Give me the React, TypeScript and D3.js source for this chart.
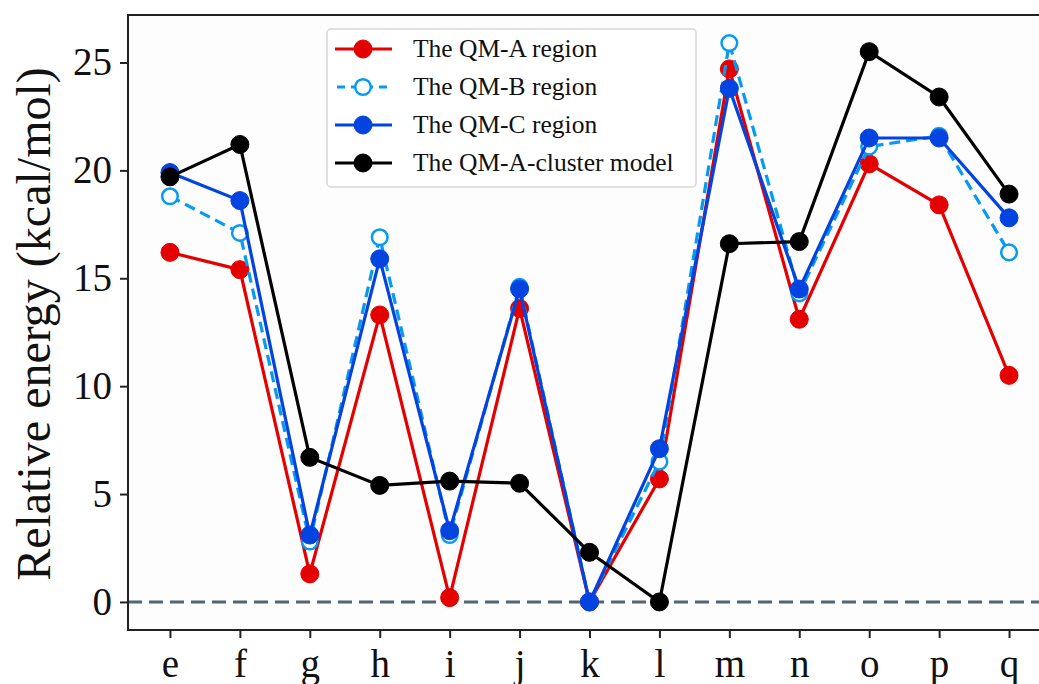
import React, { useEffect, useRef } from 'react';
import * as d3 from 'd3';

// categories along the x axis
const categories = ['e', 'f', 'g', 'h', 'i', 'j', 'k', 'l', 'm', 'n', 'o', 'p', 'q'];

// relative energies (kcal/mol)
const qmA = [16.2, 15.4, 1.3, 13.3, 0.2, 13.6, 0, 5.7, 24.7, 13.1, 20.3, 18.4, 10.5];
const qmB = [18.8, 17.1, 2.8, 16.9, 3.1, 14.6, 0, 6.5, 25.9, 14.3, 21.1, 21.6, 16.2];
const qmC = [19.9, 18.6, 3.1, 15.9, 3.3, 14.5, 0, 7.1, 23.8, 14.5, 21.5, 21.5, 17.8];
const cluster = [19.7, 21.2, 6.7, 5.4, 5.6, 5.5, 2.3, 0, 16.6, 16.7, 25.5, 23.4, 18.9];

const yTicks = [0, 5, 10, 15, 20, 25];

const seriesNames = ['The QM-A region', 'The QM-B region', 'The QM-C region', 'The QM-A-cluster model'];

export default function App() {
  const ref = useRef<SVGSVGElement>(null);

  useEffect(() => {
    const svg = d3.select(ref.current);
    svg.selectAll('*').remove();

    const left = 128, top = 15, right = 1051, bottom = 630;
    const font = '"Liberation Serif", "DejaVu Serif", serif';

    const x = d3.scaleLinear().domain([-0.6, categories.length - 1 + 0.6]).range([left, right]);
    const y = d3.scaleLinear().domain([-1.3, 27.2]).range([bottom, top]);

    svg.append('rect')
      .attr('x', left).attr('y', top)
      .attr('width', right - left).attr('height', bottom - top)
      .attr('fill', '#fdfdfd');

    // zero reference line
    svg.append('line')
      .attr('x1', left).attr('x2', right)
      .attr('y1', y(0)).attr('y2', y(0))
      .attr('stroke', '#56646f')
      .attr('stroke-width', 3)
      .attr('stroke-dasharray', '14,7');

    const series = [
      { name: seriesNames[0], values: qmA, color: '#e50000', open: false, dash: null },
      { name: seriesNames[1], values: qmB, color: '#069af3', open: true, dash: '11,6' },
      { name: seriesNames[2], values: qmC, color: '#0343df', open: false, dash: null },
      { name: seriesNames[3], values: cluster, color: '#000000', open: false, dash: null },
    ];

    const line = d3.line<number>()
      .x((d, i) => x(i))
      .y(d => y(d));

    series.forEach(s => {
      const g = svg.append('g');
      g.append('path')
        .datum(s.values)
        .attr('d', line)
        .attr('fill', 'none')
        .attr('stroke', s.color)
        .attr('stroke-width', 3.2)
        .attr('stroke-dasharray', s.dash);
      g.selectAll('circle')
        .data(s.values)
        .enter()
        .append('circle')
        .attr('cx', (d, i) => x(i))
        .attr('cy', d => y(d))
        .attr('r', s.open ? 7.8 : 9)
        .attr('fill', s.open ? '#ffffff' : s.color)
        .attr('stroke', s.color)
        .attr('stroke-width', s.open ? 2.5 : 1);
    });

    // spines
    svg.append('rect')
      .attr('x', left).attr('y', top)
      .attr('width', right - left).attr('height', bottom - top)
      .attr('fill', 'none')
      .attr('stroke', '#222')
      .attr('stroke-width', 2);

    // y axis
    const yAxis = svg.append('g').attr('transform', `translate(${left},0)`)
      .call(d3.axisLeft(y).tickValues(yTicks).tickSize(8).tickPadding(8).tickFormat(d3.format('d')));
    yAxis.select('.domain').remove();
    yAxis.selectAll('line').attr('stroke', '#222').attr('stroke-width', 2);
    yAxis.selectAll('text').attr('font-family', font).attr('font-size', 39).attr('fill', '#111');

    // x axis
    const xAxis = svg.append('g').attr('transform', `translate(0,${bottom})`)
      .call(d3.axisBottom(x).tickValues(d3.range(categories.length)).tickSize(8).tickPadding(11)
        .tickFormat((d: any) => categories[d]));
    xAxis.select('.domain').remove();
    xAxis.selectAll('line').attr('stroke', '#222').attr('stroke-width', 2);
    xAxis.selectAll('text').attr('font-family', font).attr('font-size', 39).attr('fill', '#111');

    // y label
    svg.append('text')
      .attr('transform', 'translate(50,324) rotate(-90)')
      .attr('text-anchor', 'middle')
      .attr('font-family', font)
      .attr('font-size', 48)
      .attr('fill', '#111')
      .text('Relative energy (kcal/mol)');

    // legend
    const lg = svg.append('g').attr('transform', 'translate(327,29)');
    lg.append('rect')
      .attr('width', 369).attr('height', 158)
      .attr('rx', 4)
      .attr('fill', '#ffffff').attr('fill-opacity', 0.85)
      .attr('stroke', '#d6d6d6').attr('stroke-width', 1.5);
    series.forEach((s, i) => {
      const ry = 20 + i * 38;
      lg.append('line')
        .attr('x1', 8).attr('x2', 65)
        .attr('y1', ry).attr('y2', ry)
        .attr('stroke', s.color).attr('stroke-width', 3.2)
        .attr('stroke-dasharray', s.dash ? '8,6' : null)
        .attr('stroke-dashoffset', s.dash ? -2 : null);
      lg.append('circle')
        .attr('cx', 36).attr('cy', ry)
        .attr('r', s.open ? 7.8 : 9)
        .attr('fill', s.open ? '#ffffff' : s.color)
        .attr('stroke', s.color)
        .attr('stroke-width', s.open ? 2.5 : 1);
      lg.append('text')
        .attr('x', 86).attr('y', ry + 8)
        .attr('font-family', font)
        .attr('font-size', 25.5)
        .attr('fill', '#111')
        .text(s.name);
    });
  }, []);

  return (
    <svg ref={ref} width={1039} height={684} style={{ position: 'absolute', left: 0, top: 0, background: '#fff' }} />
  );
}
